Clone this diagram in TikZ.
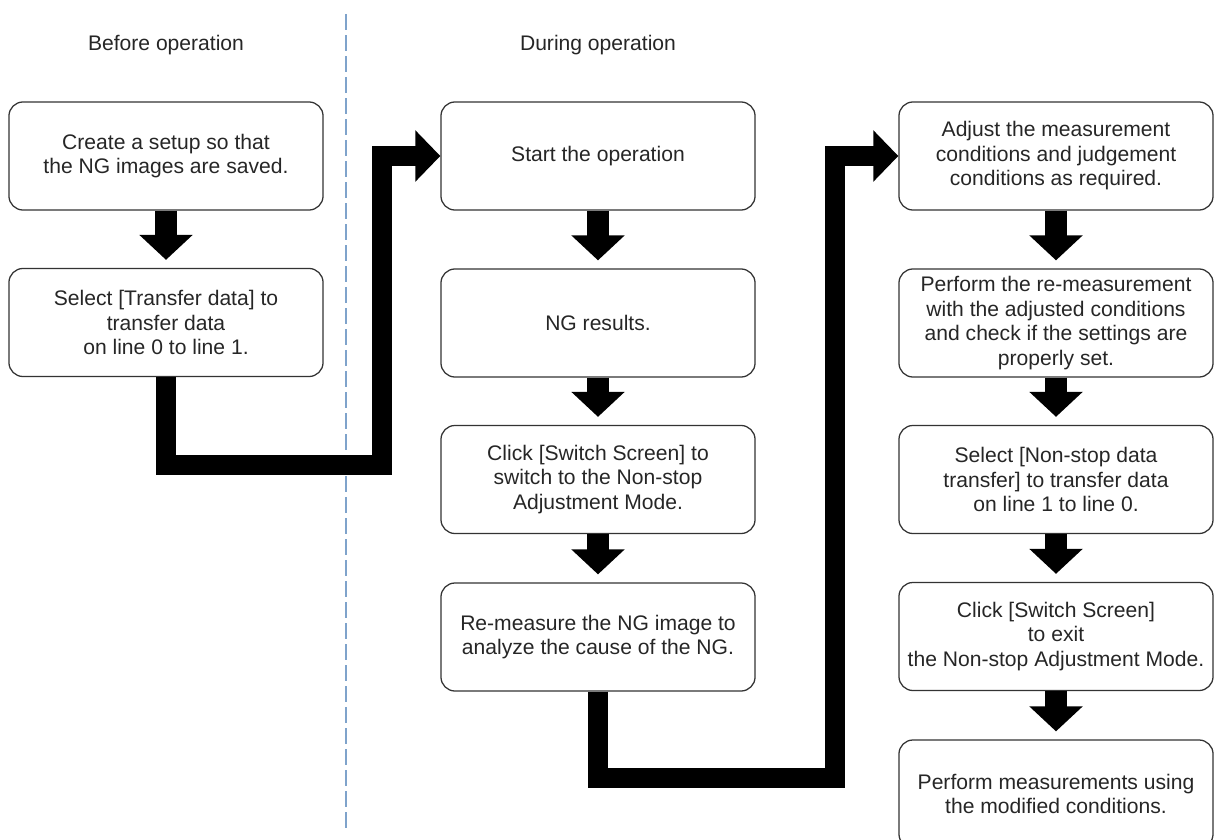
\documentclass[tikz,border=0pt]{standalone}
\usepackage{fontspec}
\setsansfont{Liberation Sans}
\usetikzlibrary{arrows.meta,positioning}
\definecolor{sepBlue}{HTML}{7FA3CB}
\definecolor{boxLine}{HTML}{333333}
\definecolor{txtGray}{HTML}{262626}

\begin{document}
\begin{tikzpicture}[
  x=0.025cm, y=-0.025cm,
  font=\sffamily\fontsize{15}{17.4}\selectfont,
  box/.style={draw=boxLine, text=txtGray, rounded corners=0.35cm, align=center,
    line width=0.9pt, minimum width=7.85cm, minimum height=2.7cm, inner sep=2pt},
  head/.style={text=txtGray},
  down/.style={line width=0.55cm, -{Triangle[width=1.3cm,length=0.625cm]}, shorten >=0.2cm},
  elbow/.style={line width=0.5cm, -{Triangle[width=1.25cm,length=0.625cm]}},
  sep/.style={sepBlue, line width=1.4pt, dash pattern=on 0.4cm off 0.125cm},
]
\clip (0,0) rectangle (1216,840);
\node[head] (before) at (166,45) {Before operation};
\node[head] (during) at (598,45) {During operation};
\coordinate (sepTop) at (346,14);
\coordinate (sepBot) at (346,828);
\draw[sep] (sepTop) -- (sepBot);
% before operation
\node[box] (setup) at (166,156) {Create a setup so that\\the NG images are saved.};
\node[box] (xfer) at (166,322.5) {Select [Transfer data] to\\transfer data\\on line 0 to line 1.};
% during operation
\node[box] (start) at (598,156) {Start the operation};
\node[box] (ngres) at (598,323) {NG results.};
\node[box] (swon) at (598,479.5) {Click [Switch Screen] to\\switch to the Non-stop\\Adjustment Mode.};
\node[box] (remeas) at (598,637) {Re-measure the NG image to\\analyze the cause of the NG.};
\node[box] (adjust) at (1056,156) {Adjust the measurement\\conditions and judgement\\conditions as required.};
\node[box] (recheck) at (1056,323) {Perform the re-measurement\\with the adjusted conditions\\and check if the settings are\\properly set.};
\node[box] (xferback) at (1056,479.5) {Select [Non-stop data\\transfer] to transfer data\\on line 1 to line 0.};
\node[box] (swoff) at (1056,636.5) {Click [Switch Screen]\\to exit\\the Non-stop Adjustment Mode.};
\node[box] (final) at (1056,794) {Perform measurements using\\the modified conditions.};
\draw[down] (setup.south) -- (xfer.north);
\draw[down] (start.south) -- (ngres.north);
\draw[down] (ngres.south) -- (swon.north);
\draw[down] (swon.south) -- (remeas.north);
\draw[down] (adjust.south) -- (recheck.north);
\draw[down] (recheck.south) -- (xferback.north);
\draw[down] (xferback.south) -- (swoff.north);
\draw[down] (swoff.south) -- (final.north);
\draw[elbow] (xfer.south) -- ++(0,88) -| ([xshift=-1.45cm]start.west) -- (start.west);
\draw[elbow] (remeas.south) -- ++(0,86) -| ([xshift=-1.575cm]adjust.west) -- (adjust.west);
\end{tikzpicture}
\end{document}
